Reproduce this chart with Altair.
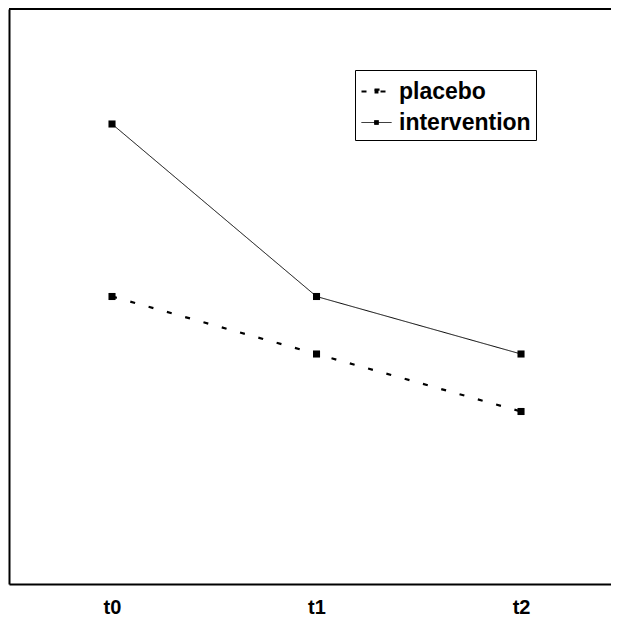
import altair as alt
import pandas as pd

times = ["t0", "t1", "t2"]
groups = ["placebo", "intervention"]
placebo = [5, 4, 3]
intervention = [8, 5, 4]

rows = []
for i, t in enumerate(times):
    rows.append({"idx": i, "time": t, "group": "placebo", "value": placebo[i]})
    rows.append({"idx": i, "time": t, "group": "intervention", "value": intervention[i]})
df = pd.DataFrame(rows)

W, H = 602, 575
x_scale = alt.Scale(domain=[-0.5037, 2.44], nice=False, zero=False)
y_scale = alt.Scale(domain=[0, 10], nice=False, zero=False)
label_expr = "[" + ",".join("'%s'" % t for t in times) + "][datum.value]"

FONT = "Liberation Sans"

x_axis = alt.Axis(values=[0, 1, 2], labelExpr=label_expr, title=None, ticks=False,
                  grid=False, domain=True, domainColor="black", domainWidth=2,
                  labelFontSize=20, labelFontWeight="bold", labelFont=FONT,
                  labelColor="black", labelPadding=13)
y_axis = alt.Axis(labels=False, ticks=False, grid=False, title=None,
                  domainColor="black", domainWidth=2)

# line with a small filled square in the middle
sym_path = "M-1,0H1M-0.13,-0.13H0.13V0.13H-0.13Z"
legend = alt.Legend(title=None, orient="none", legendX=346, legendY=61,
                    symbolType=sym_path, symbolSize=900, symbolStrokeColor="black",
                    symbolFillColor="black",
                    labelFont=FONT, labelFontSize=23, labelFontWeight="bold",
                    labelColor="black", labelOffset=6, padding=5,
                    strokeColor="black", fillColor="white", rowPadding=3)

lines = alt.Chart(df).mark_line(color="black").encode(
    x=alt.X("idx:Q", scale=x_scale, axis=x_axis),
    y=alt.Y("value:Q", scale=y_scale, axis=y_axis),
    strokeDash=alt.StrokeDash("group:N", scale=alt.Scale(domain=groups, range=[[5, 14], [1, 0]]),
                              legend=legend),
    strokeWidth=alt.StrokeWidth("group:N", scale=alt.Scale(domain=groups, range=[2.2, 1]),
                                legend=legend),
)

points = alt.Chart(df).mark_square(size=50, color="black", opacity=1).encode(
    x=alt.X("idx:Q", scale=x_scale),
    y=alt.Y("value:Q", scale=y_scale),
    detail="group:N",
)

# top edge of the frame
top = alt.Chart(df).mark_rule(color="black", strokeWidth=2).encode(
    x=alt.value(0), x2=alt.value(W), y=alt.value(0)
)

chart = alt.layer(lines, points, top).properties(
    width=W, height=H,
    autosize=alt.AutoSizeParams(type="none"),
    padding={"left": 1, "top": 1, "right": 0, "bottom": 40},
).configure_view(stroke=None).configure(background="white")

chart.save("out.html", embed_options={"renderer": "svg", "actions": False})
